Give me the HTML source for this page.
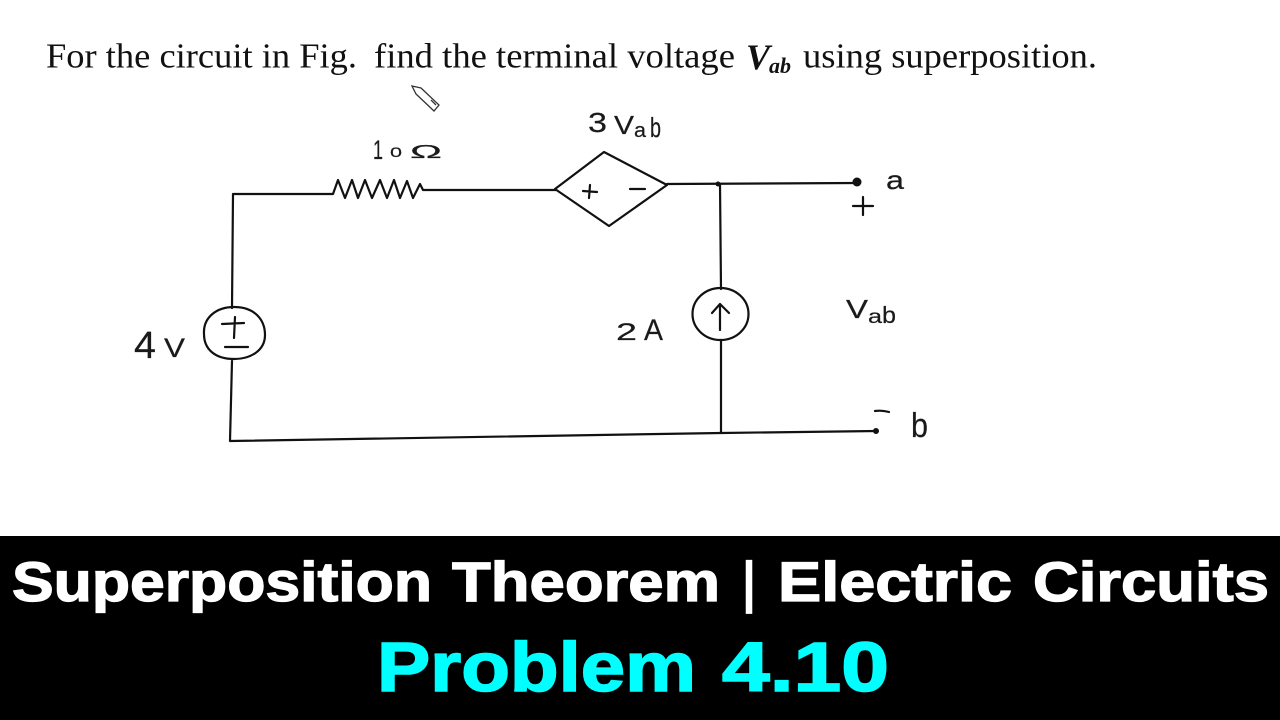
<!DOCTYPE html>
<html>
<head>
<meta charset="utf-8">
<style>
html,body{margin:0;padding:0;background:#fff;width:1280px;height:720px;overflow:hidden}
svg{display:block}
.w{fill:none;stroke:#111;stroke-width:2.2;stroke-linecap:round;stroke-linejoin:round}
.h{font-family:"Liberation Sans",sans-serif;fill:#1a1a1a;font-weight:400;stroke:#1a1a1a;stroke-width:.2}
.s{font-family:"Liberation Serif",serif;fill:#111}
.t{font-family:"Liberation Sans",sans-serif;font-weight:700}
.wt{fill:#fff;stroke:#fff;stroke-width:1.3}
.cy{fill:#00ffff;stroke:#00ffff;stroke-width:1.6}
</style>
</head>
<body>
<svg width="1280" height="720" viewBox="0 0 1280 720" xmlns="http://www.w3.org/2000/svg">
<rect width="1280" height="720" fill="#fff"/>

<text class="s" x="46" y="67.500" font-size="34.500" textLength="311" lengthAdjust="spacingAndGlyphs">For the circuit in Fig.</text>
<text class="s" x="374" y="67.500" font-size="34.500" textLength="361" lengthAdjust="spacingAndGlyphs">find the terminal voltage</text>
<text class="s" x="746" y="69" font-size="36" font-weight="700" font-style="italic">V</text>
<text class="s" x="769" y="73" font-size="22" font-weight="700" font-style="italic">ab</text>
<text class="s" x="803" y="67.500" font-size="34.500" textLength="294" lengthAdjust="spacingAndGlyphs">using superposition.</text>

<path d="M412 86 L421 88 L439 105 L434 111 L416 94 Z M431 100 L436 105" fill="none" stroke="#333" stroke-width="1.3"/>

<path class="w" d="M232 308 L233 194 L333 194 L338 180 L345 198 L352 180 L358 198 L365 180 L372 198 L380 180 L387 198 L394 180 L400 198 L407 181 L413 198 L420 184 L423 190 L556 190" stroke-width="2.500"/>
<path class="w" d="M555 189 L604 152 L667 185 L609 226 Z"/>
<path class="w" d="M667 184 L857 183"/>
<circle cx="857" cy="182" r="4.500" fill="#111"/>
<circle cx="718" cy="184" r="2.500" fill="#111"/>
<path class="w" d="M720 184 L721 289"/>
<ellipse cx="720.500" cy="314" rx="28" ry="26" class="w"/>
<path class="w" d="M721 340 L721 433"/>
<path class="w" d="M720 330 L720 304 M712 313 L720 304 L729 313"/>
<path class="w" d="M232 361 L230 441 L721 433 L877 431"/>
<circle cx="876" cy="431" r="3" fill="#111"/>
<path class="w" d="M875 411 Q882 410 889 412"/>
<path class="w" d="M204 334 C203 317 217 307 234 307 C255 307 265 320 265 335 C265 351 250 359 234 359 C216 359 204 350 204 334 Z"/>
<path class="w" d="M222 324 L244 323 M235 317 L234 338 M225 347 L248 347"/>
<path class="w" d="M583 191 L597 192 M590 185 L589 198 M630 189 L645 189"/>
<path class="w" d="M853 206 L873 206 M863 197 L863 215"/>

<text class="h" x="588" y="132" font-size="28" textLength="19" lengthAdjust="spacingAndGlyphs">3</text>
<text class="h" x="614" y="134" font-size="26" textLength="20" lengthAdjust="spacingAndGlyphs">V</text>
<text class="h" x="634" y="137" font-size="20" textLength="12" lengthAdjust="spacingAndGlyphs">a</text>
<text class="h" x="650" y="137" font-size="28" textLength="11" lengthAdjust="spacingAndGlyphs">b</text>

<text class="h" x="373" y="159" font-size="27" textLength="10" lengthAdjust="spacingAndGlyphs">1</text>
<text class="h" x="390" y="157" font-size="14" textLength="12" lengthAdjust="spacingAndGlyphs">0</text>
<text class="h" x="410" y="158" font-size="18" textLength="32" lengthAdjust="spacingAndGlyphs" stroke-width="0">Ω</text>

<text class="h" x="134" y="358" font-size="38" textLength="22" lengthAdjust="spacingAndGlyphs">4</text>
<text class="h" x="164" y="357" font-size="27" textLength="21" lengthAdjust="spacingAndGlyphs">V</text>

<text class="h" x="616" y="340" font-size="24" textLength="21" lengthAdjust="spacingAndGlyphs">2</text>
<text class="h" x="644" y="340" font-size="30" textLength="19" lengthAdjust="spacingAndGlyphs">A</text>

<text class="h" x="846" y="318" font-size="26" textLength="22" lengthAdjust="spacingAndGlyphs">V</text>
<text class="h" x="868" y="323" font-size="19" textLength="14" lengthAdjust="spacingAndGlyphs">a</text>
<text class="h" x="882" y="323" font-size="23" textLength="14" lengthAdjust="spacingAndGlyphs">b</text>

<text class="h" x="886" y="189" font-size="26" textLength="18" lengthAdjust="spacingAndGlyphs">a</text>
<text class="h" x="911" y="437" font-size="34" textLength="17" lengthAdjust="spacingAndGlyphs">b</text>

<rect x="0" y="536" width="1280" height="184" fill="#000"/>
<g class="t" font-size="56">
<text class="wt" x="12" y="601" textLength="420" lengthAdjust="spacingAndGlyphs">Superposition</text>
<text class="wt" x="452" y="601" textLength="268" lengthAdjust="spacingAndGlyphs">Theorem</text>
<text class="wt" x="743" y="601" textLength="12" lengthAdjust="spacingAndGlyphs">|</text>
<text class="wt" x="778" y="601" textLength="234" lengthAdjust="spacingAndGlyphs">Electric</text>
<text class="wt" x="1033" y="601" textLength="236" lengthAdjust="spacingAndGlyphs">Circuits</text>
</g>
<g class="t" font-size="70">
<text class="cy" x="377" y="691" textLength="319" lengthAdjust="spacingAndGlyphs">Problem</text>
<text class="cy" x="722" y="691" textLength="167" lengthAdjust="spacingAndGlyphs">4.10</text>
</g>
</svg>
</body>
</html>
